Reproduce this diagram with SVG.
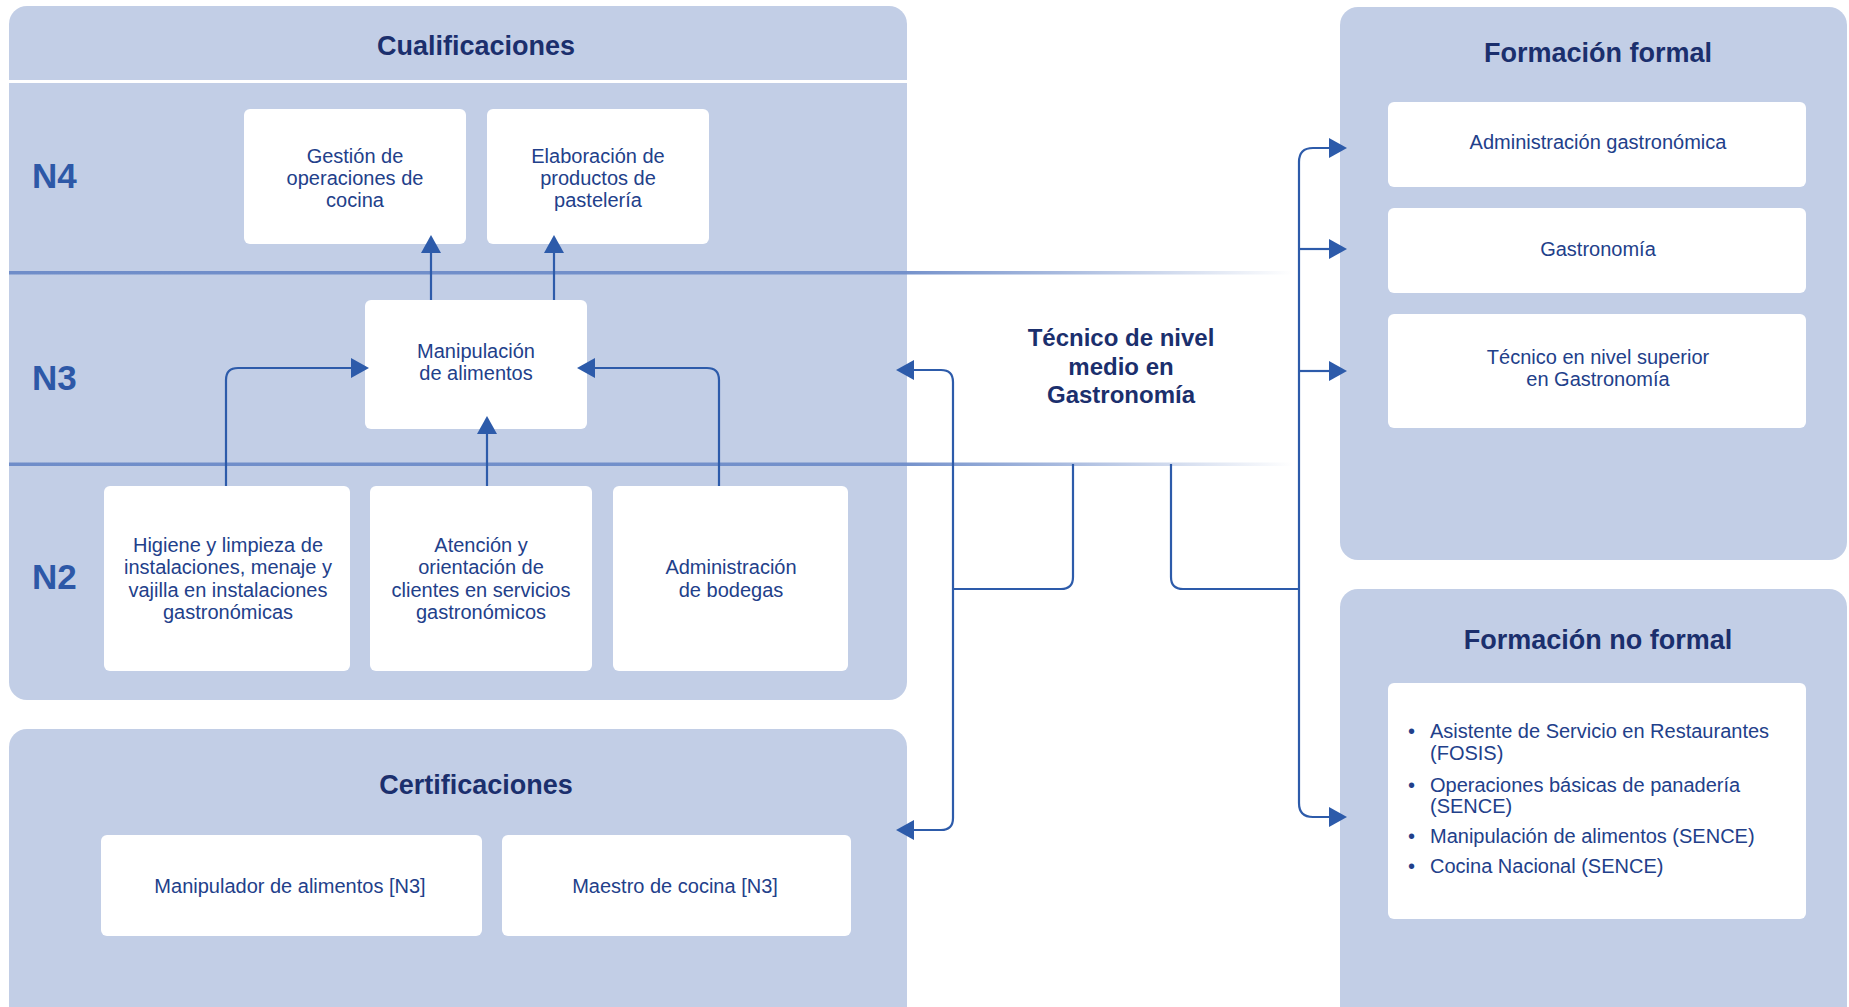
<svg xmlns="http://www.w3.org/2000/svg" width="1849" height="1007" viewBox="0 0 1849 1007">
<style>
.panel{fill:#C2CEE6}
.box{fill:#FFFFFF}
.t{font-family:"Liberation Sans",Arial,sans-serif;font-size:20px;fill:#22408A;text-anchor:middle}
.tl{font-family:"Liberation Sans",Arial,sans-serif;font-size:20px;fill:#22408A}
.title{font-family:"Liberation Sans",Arial,sans-serif;font-size:27px;font-weight:bold;fill:#1B2F6D;text-anchor:middle}
.lvl{font-family:"Liberation Sans",Arial,sans-serif;font-size:35px;font-weight:bold;fill:#2D58A7}
.center{font-family:"Liberation Sans",Arial,sans-serif;font-size:24px;font-weight:bold;fill:#1B2F6D;text-anchor:middle}
.c{fill:none;stroke:#2D5BAA;stroke-width:2.2}
.arr{marker-end:url(#ah)}
.arr2{marker-start:url(#ah);marker-end:url(#ah)}
</style>
<defs>
<marker id="ah" viewBox="0 0 18 20" markerWidth="18" markerHeight="20" refX="0" refY="10" orient="auto-start-reverse" markerUnits="userSpaceOnUse">
<path d="M0,0 L18,10 L0,20 Z" fill="#2D5BAA"/>
</marker>
<linearGradient id="fade" gradientUnits="userSpaceOnUse" x1="9" y1="0" x2="1293" y2="0">
<stop offset="0" stop-color="#6F8DC9" stop-opacity="1"/>
<stop offset="0.7" stop-color="#6F8DC9" stop-opacity="0.95"/>
<stop offset="0.82" stop-color="#6F8DC9" stop-opacity="0.6"/>
<stop offset="1" stop-color="#6F8DC9" stop-opacity="0"/>
</linearGradient>
</defs>

<!-- Panels -->
<g id="panel-cualificaciones">
<rect class="panel" x="9" y="6" width="898" height="694" rx="18"/>
<rect x="9" y="80" width="898" height="3" fill="#FFFFFF"/>
<text class="title" x="476" y="55">Cualificaciones</text>
<text class="lvl" x="32" y="188">N4</text>
<text class="lvl" x="32" y="390">N3</text>
<text class="lvl" x="32" y="589">N2</text>
</g>
<g id="panel-certificaciones">
<rect class="panel" x="9" y="729" width="898" height="310" rx="18"/>
<text class="title" x="476" y="794">Certificaciones</text>
</g>
<g id="panel-formal">
<rect class="panel" x="1340" y="7" width="507" height="553" rx="18"/>
<text class="title" x="1598" y="62">Formación formal</text>
</g>
<g id="panel-noformal">
<rect class="panel" x="1340" y="589" width="507" height="450" rx="18"/>
<text class="title" x="1598" y="649">Formación no formal</text>
</g>

<!-- Level dividers -->
<g id="dividers">
<rect x="9" y="271" width="1284" height="3.5" fill="url(#fade)"/>
<rect x="9" y="462.5" width="1284" height="3.5" fill="url(#fade)"/>
</g>

<!-- Nodes -->
<g id="n4-gestion">
<rect class="box" x="244" y="109" width="222" height="135" rx="6"/>
<text class="t" x="355" y="163">Gestión de</text>
<text class="t" x="355" y="185">operaciones de</text>
<text class="t" x="355" y="207">cocina</text>
</g>
<g id="n4-elaboracion">
<rect class="box" x="487" y="109" width="222" height="135" rx="6"/>
<text class="t" x="598" y="163">Elaboración de</text>
<text class="t" x="598" y="185">productos de</text>
<text class="t" x="598" y="207">pastelería</text>
</g>
<g id="n3-manipulacion">
<rect class="box" x="365" y="300" width="222" height="129" rx="6"/>
<text class="t" x="476" y="358">Manipulación</text>
<text class="t" x="476" y="380">de alimentos</text>
</g>
<g id="n2-higiene">
<rect class="box" x="104" y="486" width="246" height="185" rx="6"/>
<text class="t" x="228" y="552">Higiene y limpieza de</text>
<text class="t" x="228" y="574">instalaciones, menaje y</text>
<text class="t" x="228" y="597">vajilla en instalaciones</text>
<text class="t" x="228" y="619">gastronómicas</text>
</g>
<g id="n2-atencion">
<rect class="box" x="370" y="486" width="222" height="185" rx="6"/>
<text class="t" x="481" y="552">Atención y</text>
<text class="t" x="481" y="574">orientación de</text>
<text class="t" x="481" y="597">clientes en servicios</text>
<text class="t" x="481" y="619">gastronómicos</text>
</g>
<g id="n2-bodegas">
<rect class="box" x="613" y="486" width="235" height="185" rx="6"/>
<text class="t" x="731" y="574">Administración</text>
<text class="t" x="731" y="597">de bodegas</text>
</g>
<g id="cert-manipulador">
<rect class="box" x="101" y="835" width="381" height="101" rx="6"/>
<text class="t" x="290" y="893">Manipulador de alimentos [N3]</text>
</g>
<g id="cert-maestro">
<rect class="box" x="502" y="835" width="349" height="101" rx="6"/>
<text class="t" x="675" y="893">Maestro de cocina [N3]</text>
</g>
<g id="tecnico-medio">
<text class="center" x="1121" y="346">Técnico de nivel</text>
<text class="center" x="1121" y="375">medio en</text>
<text class="center" x="1121" y="403">Gastronomía</text>
</g>
<g id="formal-admin">
<rect class="box" x="1388" y="102" width="418" height="85" rx="6"/>
<text class="t" x="1598" y="149">Administración gastronómica</text>
</g>
<g id="formal-gastro">
<rect class="box" x="1388" y="208" width="418" height="85" rx="6"/>
<text class="t" x="1598" y="256">Gastronomía</text>
</g>
<g id="formal-superior">
<rect class="box" x="1388" y="314" width="418" height="114" rx="6"/>
<text class="t" x="1598" y="364">Técnico en nivel superior</text>
<text class="t" x="1598" y="386">en Gastronomía</text>
</g>
<g id="noformal-list">
<rect class="box" x="1388" y="683" width="418" height="236" rx="6"/>
<text class="tl" x="1408" y="738">•</text>
<text class="tl" x="1430" y="738">Asistente de Servicio en Restaurantes</text>
<text class="tl" x="1430" y="760">(FOSIS)</text>
<text class="tl" x="1408" y="792">•</text>
<text class="tl" x="1430" y="792">Operaciones básicas de panadería</text>
<text class="tl" x="1430" y="813">(SENCE)</text>
<text class="tl" x="1408" y="843">•</text>
<text class="tl" x="1430" y="843">Manipulación de alimentos (SENCE)</text>
<text class="tl" x="1408" y="873">•</text>
<text class="tl" x="1430" y="873">Cocina Nacional (SENCE)</text>
</g>

<!-- Connectors -->
<g id="connectors">
<path class="c arr" d="M431,300 V253"/>
<path class="c arr" d="M554,300 V253"/>
<path class="c arr" d="M226,486 V380 Q226,368 238,368 H351"/>
<path class="c arr" d="M487,486 V434"/>
<path class="c arr" d="M719,486 V380 Q719,368 707,368 H595"/>
<path class="c arr2" d="M914,370 H941 Q953,370 953,382 V818 Q953,830 941,830 H914"/>
<path class="c" d="M1073,464 V577 Q1073,589 1061,589 H953"/>
<path class="c" d="M1171,464 V577 Q1171,589 1183,589 H1299"/>
<path class="c arr2" d="M1329,148 H1313 Q1299,148 1299,162 V803 Q1299,817 1313,817 H1329"/>
<path class="c arr" d="M1299,249 H1329"/>
<path class="c arr" d="M1299,371 H1329"/>
</g>
</svg>
